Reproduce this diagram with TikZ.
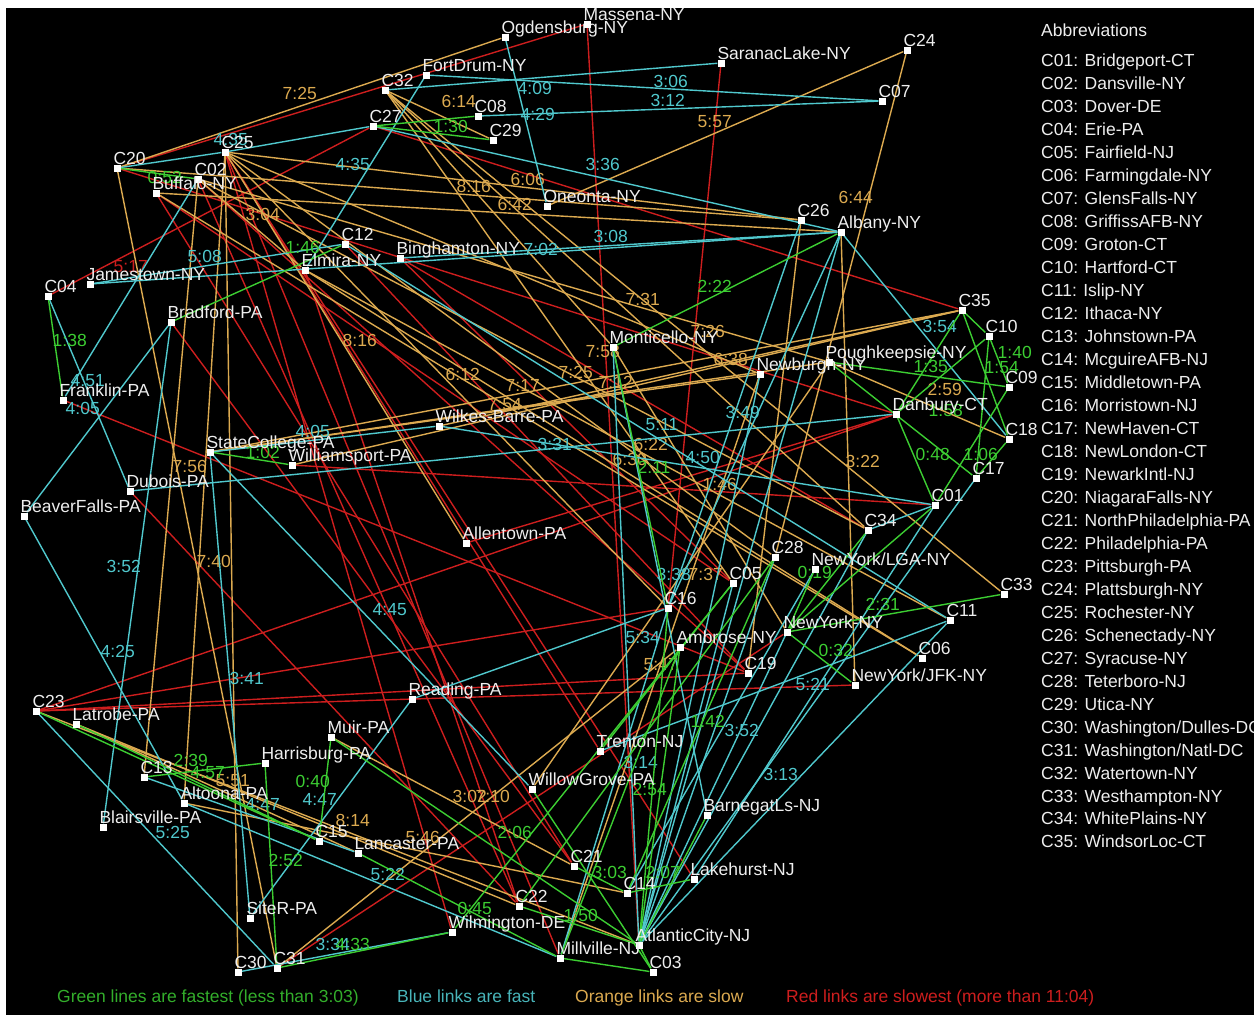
\documentclass[tikz,border=0pt]{standalone}
\usepackage{fontspec}
\setmainfont{Liberation Sans}
\usetikzlibrary{positioning}
\definecolor{cGreen}{RGB}{60,205,50}
\definecolor{cBlue}{RGB}{80,200,205}
\definecolor{cOrange}{RGB}{220,170,80}
\definecolor{cRed}{RGB}{205,30,30}
\definecolor{cText}{RGB}{238,238,238}
\pgfdeclarelayer{bg}
\pgfdeclarelayer{links}
\pgfsetlayers{bg,links,main}

\begin{document}
\begin{tikzpicture}[x=1pt, y=-1pt, font=\fontsize{17.5}{20}\selectfont,
  city/.style={fill=white, inner sep=0pt, minimum size=7pt},
  cname/.style={anchor=base west, inner sep=0pt, text=cText},
  tm/.style={anchor=base west, inner sep=0pt},
  lnkG/.style={cGreen, line width=1.4pt},
  lnkB/.style={cBlue, line width=1.4pt},
  lnkO/.style={cOrange, line width=1.4pt},
  lnkR/.style={cRed, line width=1.4pt}]
\useasboundingbox (0,0) rectangle (1254,1015);
\begin{pgfonlayer}{bg}
\fill[white] (0,0) rectangle (1254,1015);
\fill[black] (6,8) rectangle (1254,1015);
\end{pgfonlayer}

% cities and hubs
\node[city, label={[cname]north west:Ogdensburg-NY}] (Ogd) at (505,37) {};
\node[city, label={[cname]north west:Massena-NY}] (Mas) at (587,24) {};
\node[city, label={[cname]north west:SaranacLake-NY}] (Sar) at (721,63) {};
\node[city, label={[cname]north west:C24}] (C24) at (907,50) {};
\node[city, label={[cname]north west:C07}] (C07) at (882,101) {};
\node[city, label={[cname]north west:FortDrum-NY}] (FtD) at (426,75) {};
\node[city, label={[cname]north west:C32}] (C32) at (385,90) {};
\node[city, label={[cname]north west:C08}] (C08) at (478,116) {};
\node[city, label={[cname]north west:C29}] (C29) at (493,140) {};
\node[city, label={[cname]north west:C27}] (C27) at (373,126) {};
\node[city, label={[cname]north west:C25}] (C25) at (225,152) {};
\node[city, label={[cname]north west:C20}] (C20) at (117,168) {};
\node[city, label={[cname]north west:C02}] (C02) at (198,179) {};
\node[city, label={[cname]north west:Buffalo-NY}] (Buf) at (156,193) {};
\node[city, label={[cname]north west:Oneonta-NY}] (One) at (547,206) {};
\node[city, label={[cname]north west:C26}] (C26) at (801,220) {};
\node[city, label={[cname]north west:Albany-NY}] (Alb) at (841,232) {};
\node[city, label={[cname]north west:C12}] (C12) at (345,244) {};
\node[city, label={[cname]north west:Elmira-NY}] (Elm) at (305,270) {};
\node[city, label={[cname]north west:Binghamton-NY}] (Bin) at (400,258) {};
\node[city, label={[cname]north west:Jamestown-NY}] (Jam) at (90,284) {};
\node[city, label={[cname]north west:C04}] (C04) at (48,296) {};
\node[city, label={[cname]north west:Bradford-PA}] (Brd) at (171,322) {};
\node[city, label={[cname]north west:Franklin-PA}] (Frk) at (63,400) {};
\node[city, label={[cname]north west:Monticello-NY}] (Mon) at (613,347) {};
\node[city, label={[cname]north west:Newburgh-NY}] (Nwb) at (760,374) {};
\node[city, label={[cname]north west:Poughkeepsie-NY}] (Pgh) at (829,362) {};
\node[city, label={[cname]north west:C35}] (C35) at (962,310) {};
\node[city, label={[cname]north west:C10}] (C10) at (989,336) {};
\node[city, label={[cname]north west:C09}] (C09) at (1009,387) {};
\node[city, label={[cname]north west:Danbury-CT}] (Dan) at (896,414) {};
\node[city, label={[cname]north west:C18}] (C18) at (1009,439) {};
\node[city, label={[cname]north west:C17}] (C17) at (976,478) {};
\node[city, label={[cname]north west:C01}] (C01) at (935,505) {};
\node[city, label={[cname]north west:C34}] (C34) at (868,530) {};
\node[city, label={[cname]north west:C28}] (C28) at (775,557) {};
\node[city, label={[cname]north west:NewYork/LGA-NY}] (LGA) at (815,569) {};
\node[city, label={[cname]north west:C33}] (C33) at (1004,594) {};
\node[city, label={[cname]north west:C11}] (C11) at (950,620) {};
\node[city, label={[cname]north west:NewYork-NY}] (NYC) at (787,632) {};
\node[city, label={[cname]north west:C06}] (C06) at (922,658) {};
\node[city, label={[cname]north west:NewYork/JFK-NY}] (JFK) at (855,685) {};
\node[city, label={[cname]north west:C05}] (C05) at (733,583) {};
\node[city, label={[cname]north west:C16}] (C16) at (668,608) {};
\node[city, label={[cname]north west:Ambrose-NY}] (Amb) at (680,647) {};
\node[city, label={[cname]north west:C19}] (C19) at (748,673) {};
\node[city, label={[cname]north west:Wilkes-Barre-PA}] (WB) at (439,426) {};
\node[city, label={[cname]north west:StateCollege-PA}] (SC) at (210,452) {};
\node[city, label={[cname]north west:Williamsport-PA}] (Wil) at (292,465) {};
\node[city, label={[cname]north west:Dubois-PA}] (Dub) at (130,491) {};
\node[city, label={[cname]north west:BeaverFalls-PA}] (BF) at (24,516) {};
\node[city, label={[cname]north west:Allentown-PA}] (Alt) at (466,543) {};
\node[city, label={[cname]north west:C23}] (C23) at (36,711) {};
\node[city, label={[cname]north west:Latrobe-PA}] (Lat) at (76,724) {};
\node[city, label={[cname]north west:Reading-PA}] (Rdg) at (412,699) {};
\node[city, label={[cname]north west:Muir-PA}] (Mui) at (331,737) {};
\node[city, label={[cname]north west:Harrisburg-PA}] (Hbg) at (265,763) {};
\node[city, label={[cname]north west:C13}] (C13) at (144,777) {};
\node[city, label={[cname]north west:Altoona-PA}] (Alo) at (184,803) {};
\node[city, label={[cname]north west:Blairsville-PA}] (Bla) at (103,827) {};
\node[city, label={[cname]north west:C15}] (C15) at (319,841) {};
\node[city, label={[cname]north west:Lancaster-PA}] (Lan) at (358,853) {};
\node[city, label={[cname]north west:Trenton-NJ}] (Tre) at (600,751) {};
\node[city, label={[cname]north west:WillowGrove-PA}] (WG) at (532,789) {};
\node[city, label={[cname]north west:BarnegatLs-NJ}] (Bar) at (707,815) {};
\node[city, label={[cname]north west:C21}] (C21) at (574,866) {};
\node[city, label={[cname]north west:Lakehurst-NJ}] (Lak) at (694,879) {};
\node[city, label={[cname]north west:C14}] (C14) at (627,893) {};
\node[city, label={[cname]north west:C22}] (C22) at (519,906) {};
\node[city, label={[cname]north west:Wilmington-DE}] (Wlm) at (452,932) {};
\node[city, label={[cname]north west:SiteR-PA}] (SiR) at (250,918) {};
\node[city, label={[cname]north west:AtlanticCity-NJ}] (AC) at (639,945) {};
\node[city, label={[cname]north west:Millville-NJ}] (Mil) at (560,958) {};
\node[city, label={[cname]north west:C03}] (C03) at (653,972) {};
\node[city, label={[cname]north west:C30}] (C30) at (238,972) {};
\node[city, label={[cname]north west:C31}] (C31) at (277,968) {};

\begin{pgfonlayer}{links}
% red links, slowest
\draw[lnkR] (C20) -- (Mas);
\draw[lnkR] (Sar) -- (C16);
\draw[lnkR] (Mas) -- (AC);
\draw[lnkR] (C04) -- (C27) node[tm] (t01) at (113,272) {5:17};
\draw[lnkR] (C27) -- (C35);
\draw[lnkR] (C25) -- (Wlm);
\draw[lnkR] (C25) -- (Tre);
\draw[lnkR] (C25) -- (Mil);
\draw[lnkR] (C25) -- (Lak);
\draw[lnkR] (C02) -- (C22);
\draw[lnkR] (C02) -- (C19);
\draw[lnkR] (Buf) -- (C21);
\draw[lnkR] (Buf) -- (C05);
\draw[lnkR] (Elm) -- (C22);
\draw[lnkR] (C12) -- (C19);
\draw[lnkR] (Bin) -- (C34);
\draw[lnkR] (Bin) -- (C05);
\draw[lnkR] (C23) -- (C16);
\draw[lnkR] (C23) -- (C19);
\draw[lnkR] (C23) -- (JFK);
\draw[lnkR] (C23) -- (Dan);
\draw[lnkR] (Frk) -- (C19);
\draw[lnkR] (Dub) -- (C22);
\draw[lnkR] (Brd) -- (C21);
\draw[lnkR] (Wil) -- (C01);
\draw[lnkR] (Alt) -- (Dan);
\draw[lnkR] (C31) -- (NYC);
\draw[lnkR] (C20) -- (Dan);

% orange links, slow
\draw[lnkO] (Ogd) -- (C20) node[tm] (t02) at (282,99) {7:25};
\draw[lnkO] (C32) -- (C29) node[tm] (t03) at (441,107) {6:14};
\draw[lnkO] (C24) -- (One) node[tm] (t04) at (697,127) {5:57};
\draw[lnkO] (C24) -- (C28) node[tm] (t05) at (838,203) {6:44};
\draw[lnkO] (C20) -- (C26) node[tm] (t06) at (456,192) {8:16};
\draw[lnkO] (C25) -- (C26) node[tm] (t07) at (510,185) {6:06};
\draw[lnkO] (Buf) -- (Alb) node[tm] (t08) at (497,210) {6:42};
\draw[lnkO] (C02) -- (Elm) node[tm] (t09) at (245,220) {3:04};
\draw[lnkO] (C32) -- (C34) node[tm] (t10) at (625,305) {7:31};
\draw[lnkO] (C32) -- (C33) node[tm] (t11) at (690,337) {7:26};
\draw[lnkO] (C25) -- (Alt) node[tm] (t12) at (342,346) {8:16};
\draw[lnkO] (C02) -- (C13) node[tm] (t13) at (172,472) {7:56};
\draw[lnkO] (C20) -- (C31) node[tm] (t14) at (196,567) {7:40};
\draw[lnkO] (SC) -- (Pgh) node[tm] (t15) at (505,391) {7:17};
\draw[lnkO] (SC) -- (Nwb) node[tm] (t16) at (487,410) {7:54};
\draw[lnkO] (SC) -- (C35) node[tm] (t17) at (558,378) {7:25};
\draw[lnkO] (Wil) -- (C35) node[tm] (t18) at (598,388) {7:12};
\draw[lnkO] (C25) -- (C16) node[tm] (t19) at (445,380) {6:12};
\draw[lnkO] (C02) -- (C34) node[tm] (t20) at (585,357) {7:58};
\draw[lnkO] (WB) -- (C35) node[tm] (t21) at (713,365) {6:38};
\draw[lnkO] (Elm) -- (C11) node[tm] (t22) at (633,450) {6:22};
\draw[lnkO] (Elm) -- (C06) node[tm] (t23) at (612,465) {6:30};
\draw[lnkO] (Mon) -- (NYC) node[tm] (t24) at (702,490) {1:46};
\draw[lnkO] (Alb) -- (JFK) node[tm] (t25) at (845,467) {3:22};
\draw[lnkO] (Pgh) -- (C18) node[tm] (t26) at (927,395) {2:59};
\draw[lnkO] (Pgh) -- (WG) node[tm] (t27) at (688,580) {7:37};
\draw[lnkO] (Nwb) -- (Mil) node[tm] (t28) at (643,670) {5:47};
\draw[lnkO] (Lat) -- (Lan) node[tm] (t29) at (215,786) {5:51};
\draw[lnkO] (C23) -- (AC) node[tm] (t30) at (335,826) {8:14};
\draw[lnkO] (Alo) -- (C14) node[tm] (t31) at (405,843) {5:46};
\draw[lnkO] (Mui) -- (C21) node[tm] (t32) at (452,802) {3:02};
\draw[lnkO] (C31) -- (Amb) node[tm] (t33) at (475,802) {7:10};
\draw[lnkO] (C32) -- (Mon);
\draw[lnkO] (C32) -- (C05);
\draw[lnkO] (C25) -- (Nwb);
\draw[lnkO] (C25) -- (C28);
\draw[lnkO] (C25) -- (C30);
\draw[lnkO] (C25) -- (Alo);
\draw[lnkO] (C02) -- (Pgh);
\draw[lnkO] (Lat) -- (C22);
\draw[lnkO] (C26) -- (C19);
\draw[lnkO] (Buf) -- (C06);

% blue links, fast
\draw[lnkB] (C20) -- (C25) node[tm] (t34) at (213,145) {4:35};
\draw[lnkB] (Sar) -- (C32) node[tm] (t35) at (517,94) {4:09};
\draw[lnkB] (Ogd) -- (One) node[tm] (t36) at (520,120) {4:29};
\draw[lnkB] (FtD) -- (C07) node[tm] (t37) at (653,87) {3:06};
\draw[lnkB] (C08) -- (C07) node[tm] (t38) at (650,106) {3:12};
\draw[lnkB] (C27) -- (Alb) node[tm] (t39) at (585,170) {3:36};
\draw[lnkB] (C25) -- (C27);
\draw[lnkB] (FtD) -- (Elm) node[tm] (t40) at (335,170) {4:35};
\draw[lnkB] (Jam) -- (C12) node[tm] (t41) at (187,262) {5:08};
\draw[lnkB] (Jam) -- (Alb) node[tm] (t42) at (523,255) {7:02};
\draw[lnkB] (Bin) -- (Alb) node[tm] (t43) at (593,242) {3:08};
\draw[lnkB] (C04) -- (Dub) node[tm] (t44) at (70,386) {4:51};
\draw[lnkB] (Brd) -- (BF) node[tm] (t45) at (65,414) {4:05};
\draw[lnkB] (C02) -- (Frk);
\draw[lnkB] (Brd) -- (Bla) node[tm] (t46) at (106,572) {3:52};
\draw[lnkB] (SC) -- (WG) node[tm] (t47) at (372,615) {4:45};
\draw[lnkB] (BF) -- (Alo) node[tm] (t48) at (100,657) {4:25};
\draw[lnkB] (SC) -- (SiR) node[tm] (t49) at (229,684) {3:41};
\draw[lnkB] (SC) -- (WB) node[tm] (t50) at (295,437) {4:05};
\draw[lnkB] (Dub) -- (Dan) node[tm] (t51) at (537,450) {3:31};
\draw[lnkB] (WB) -- (C01) node[tm] (t52) at (685,463) {4:50};
\draw[lnkB] (C12) -- (C11) node[tm] (t53) at (645,430) {5:11};
\draw[lnkB] (C16) -- (C26) node[tm] (t54) at (725,418) {3:49};
\draw[lnkB] (Alb) -- (C18) node[tm] (t55) at (922,332) {3:54};
\draw[lnkB] (Tre) -- (C11) node[tm] (t56) at (795,690) {5:21};
\draw[lnkB] (Mon) -- (Bar) node[tm] (t57) at (656,580) {3:38};
\draw[lnkB] (Mon) -- (AC) node[tm] (t58) at (625,643) {5:34};
\draw[lnkB] (LGA) -- (C14) node[tm] (t59) at (724,736) {3:52};
\draw[lnkB] (C11) -- (AC) node[tm] (t60) at (763,780) {3:13};
\draw[lnkB] (C16) -- (Mil) node[tm] (t61) at (623,768) {3:14};
\draw[lnkB] (C13) -- (Lan) node[tm] (t62) at (245,810) {4:47};
\draw[lnkB] (Rdg) -- (SiR) node[tm] (t63) at (302,805) {4:47};
\draw[lnkB] (Alo) -- (Mil) node[tm] (t64) at (370,880) {5:22};
\draw[lnkB] (C30) -- (Wlm) node[tm] (t65) at (315,950) {3:34};
\draw[lnkB] (C23) -- (C31) node[tm] (t66) at (155,838) {5:25};
\draw[lnkB] (Alb) -- (C16);
\draw[lnkB] (Alb) -- (AC);
\draw[lnkB] (Nwb) -- (AC);
\draw[lnkB] (C28) -- (AC);
\draw[lnkB] (C34) -- (AC);
\draw[lnkB] (C17) -- (AC);
\draw[lnkB] (NYC) -- (AC);
\draw[lnkB] (C05) -- (AC);
\draw[lnkB] (Lak) -- (C01);
\draw[lnkB] (Rdg) -- (C16);
\draw[lnkB] (C34) -- (C01);

% green links, fastest
\draw[lnkG] (C20) -- (C02) node[tm] (t67) at (147,183) {0:52};
\draw[lnkG] (C27) -- (C29) node[tm] (t68) at (433,132) {1:30};
\draw[lnkG] (C27) -- (C08);
\draw[lnkG] (Brd) -- (C12) node[tm] (t69) at (285,253) {1:46};
\draw[lnkG] (Mon) -- (Alb) node[tm] (t70) at (697,292) {2:22};
\draw[lnkG] (C04) -- (Frk) node[tm] (t71) at (52,346) {1:38};
\draw[lnkG] (SC) -- (Wil) node[tm] (t72) at (245,458) {1:02};
\draw[lnkG] (Mon) -- (C16) node[tm] (t73) at (637,473) {2:11};
\draw[lnkG] (Pgh) -- (C09) node[tm] (t74) at (913,372) {1:35};
\draw[lnkG] (C10) -- (C09) node[tm] (t75) at (997,358) {1:40};
\draw[lnkG] (C35) -- (C18) node[tm] (t76) at (984,373) {1:54};
\draw[lnkG] (Pgh) -- (C17) node[tm] (t77) at (928,416) {1:58};
\draw[lnkG] (Dan) -- (C01) node[tm] (t78) at (915,460) {0:48};
\draw[lnkG] (C09) -- (C01) node[tm] (t79) at (963,460) {1:06};
\draw[lnkG] (C10) -- (C17);
\draw[lnkG] (C17) -- (C18);
\draw[lnkG] (C35) -- (C10);
\draw[lnkG] (C35) -- (Dan);
\draw[lnkG] (C10) -- (Dan);
\draw[lnkG] (NYC) -- (C33) node[tm] (t80) at (865,610) {2:31};
\draw[lnkG] (NYC) -- (JFK) node[tm] (t81) at (818,656) {0:32};
\draw[lnkG] (LGA) -- (NYC) node[tm] (t82) at (797,578) {0:19};
\draw[lnkG] (NYC) -- (C01);
\draw[lnkG] (NYC) -- (C34);
\draw[lnkG] (C28) -- (C14) node[tm] (t83) at (690,727) {1:42};
\draw[lnkG] (Amb) -- (Mil) node[tm] (t84) at (632,795) {2:54};
\draw[lnkG] (Amb) -- (AC);
\draw[lnkG] (C23) -- (C15) node[tm] (t85) at (173,766) {2:39};
\draw[lnkG] (Lat) -- (C15) node[tm] (t86) at (190,778) {4:57};
\draw[lnkG] (Mui) -- (C15) node[tm] (t87) at (295,787) {0:40};
\draw[lnkG] (Hbg) -- (C31) node[tm] (t88) at (268,866) {2:52};
\draw[lnkG] (Mui) -- (AC) node[tm] (t89) at (497,838) {2:06};
\draw[lnkG] (Lan) -- (Mil) node[tm] (t90) at (457,914) {0:45};
\draw[lnkG] (C31) -- (Wlm) node[tm] (t91) at (335,950) {4:33};
\draw[lnkG] (C21) -- (C14) node[tm] (t92) at (592,878) {3:03};
\draw[lnkG] (C14) -- (Lak) node[tm] (t93) at (645,878) {2:07};
\draw[lnkG] (C22) -- (AC) node[tm] (t94) at (563,921) {1:50};
\draw[lnkG] (Mil) -- (C03);
\draw[lnkG] (AC) -- (C03);
\draw[lnkG] (WG) -- (C03);
\draw[lnkG] (Bar) -- (AC);
\draw[lnkG] (C13) -- (Hbg);
\draw[lnkG] (Tre) -- (C05);
\draw[lnkG] (C22) -- (C28);
\draw[lnkG] (Wlm) -- (C05);
\draw[lnkG] (C16) -- (AC);
\end{pgfonlayer}

% abbreviations
\node[tm, text=cText] (abbr) at (1041,36) {Abbreviations};
\foreach \nm [count=\i] in {Bridgeport-CT, Dansville-NY, Dover-DE, Erie-PA,
  Fairfield-NJ, Farmingdale-NY, GlensFalls-NY, GriffissAFB-NY, Groton-CT,
  Hartford-CT, Islip-NY, Ithaca-NY, Johnstown-PA, McguireAFB-NJ,
  Middletown-PA, Morristown-NJ, NewHaven-CT, NewLondon-CT, NewarkIntl-NJ,
  NiagaraFalls-NY, NorthPhiladelphia-PA, Philadelphia-PA, Pittsburgh-PA,
  Plattsburgh-NY, Rochester-NY, Schenectady-NY, Syracuse-NY, Teterboro-NJ,
  Utica-NY, Washington/Dulles-DC, Washington/Natl-DC, Watertown-NY,
  Westhampton-NY, WhitePlains-NY, WindsorLoc-CT}
  \node[tm, text=cText] (ab\i) at (1041,{44+22.97*\i}) {C\ifnum\i<10 0\fi\i: \nm};

% colour key
\node[tm, text=cGreen!85!black] (keyG) at (57,1002) {Green lines are fastest (less than 3:03)};
\node[tm, text=cBlue!90!black] (keyB) at (397,1002) {Blue links are fast};
\node[tm, text=cOrange] (keyO) at (575,1002) {Orange links are slow};
\node[tm, text=cRed] (keyR) at (786,1002) {Red links are slowest (more than 11:04)};
\end{tikzpicture}
\end{document}
